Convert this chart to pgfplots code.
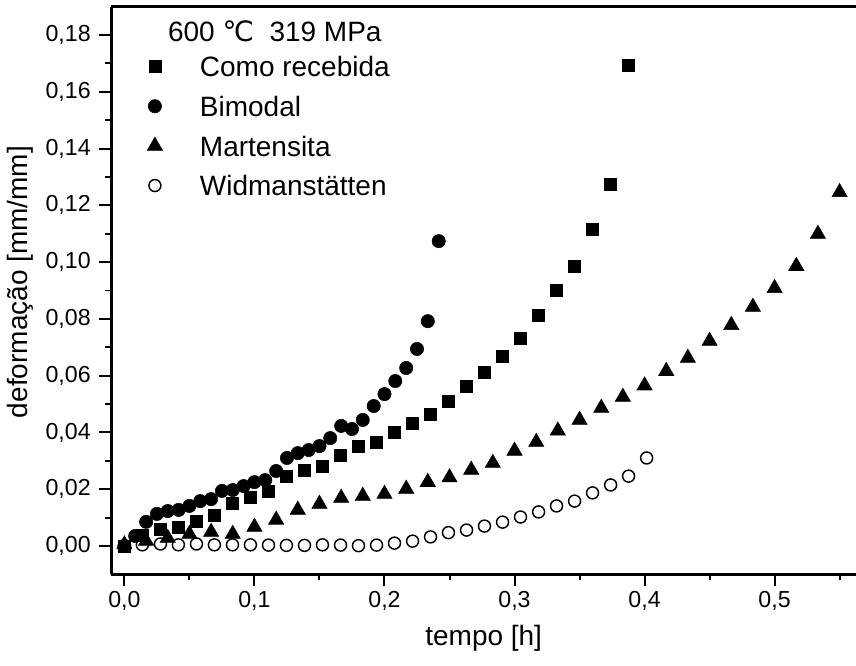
\documentclass[border=0pt]{standalone}
\usepackage{fontspec}
\setmainfont{Liberation Sans}
\newfontfamily\dejavu{DejaVu Sans}
\usepackage{pgfplots}
\usepackage{pgfplotstable}
\pgfplotsset{compat=1.18}
\usetikzlibrary{calc}

% tempo [h]  deformacao [mm/mm]
\pgfplotstableread{
t e
0      0
0.0138 0.0037
0.0277 0.0060
0.0415 0.0067
0.0554 0.0088
0.0692 0.0109
0.0831 0.0151
0.0969 0.0173
0.1108 0.0194
0.1246 0.0246
0.1385 0.0268
0.1523 0.0282
0.1662 0.0320
0.1800 0.0352
0.1939 0.0366
0.2077 0.0401
0.2216 0.0433
0.2354 0.0465
0.2492 0.0511
0.2631 0.0562
0.2769 0.0612
0.2908 0.0669
0.3046 0.0732
0.3185 0.0813
0.3323 0.0901
0.3462 0.0986
0.3600 0.1116
0.3739 0.1275
0.3877 0.1694
}\comorecebida

\pgfplotstableread{
t e
0      0
0.0083 0.0035
0.0167 0.0085
0.0250 0.0113
0.0333 0.0123
0.0417 0.0127
0.0500 0.0141
0.0583 0.0158
0.0667 0.0165
0.0750 0.0194
0.0833 0.0197
0.0917 0.0211
0.1000 0.0225
0.1083 0.0232
0.1167 0.0264
0.1250 0.0310
0.1333 0.0327
0.1417 0.0338
0.1500 0.0352
0.1583 0.0380
0.1667 0.0423
0.1750 0.0412
0.1833 0.0444
0.1917 0.0493
0.2000 0.0535
0.2083 0.0581
0.2167 0.0627
0.2250 0.0694
0.2333 0.0792
0.2417 0.1074
}\bimodal

\pgfplotstableread{
t e
0      0.0005
0.0167 0.0018
0.0333 0.0028
0.0500 0.0042
0.0667 0.0049
0.0833 0.0042
0.1000 0.0067
0.1167 0.0092
0.1333 0.0127
0.1500 0.0148
0.1667 0.0169
0.1833 0.0176
0.2000 0.0183
0.2167 0.0201
0.2333 0.0225
0.2500 0.0241
0.2667 0.0268
0.2833 0.0292
0.3000 0.0335
0.3167 0.0366
0.3333 0.0406
0.3500 0.0444
0.3667 0.0486
0.3833 0.0525
0.4000 0.0565
0.4167 0.0616
0.4333 0.0662
0.4500 0.0722
0.4667 0.0778
0.4833 0.0842
0.5000 0.0908
0.5167 0.0986
0.5333 0.1099
0.5500 0.1246
}\martensita

\pgfplotstableread{
t e
0      0
0.0138 0.0004
0.0277 0.0007
0.0415 0.0004
0.0554 0.0007
0.0692 0.0004
0.0831 0.0004
0.0969 0.0004
0.1108 0.0003
0.1246 0.0002
0.1385 0.0002
0.1523 0.0004
0.1662 0.0003
0.1800 0.0001
0.1939 0.0003
0.2077 0.0010
0.2216 0.0017
0.2354 0.0032
0.2492 0.0047
0.2631 0.0056
0.2769 0.0070
0.2908 0.0084
0.3046 0.0102
0.3185 0.0120
0.3323 0.0141
0.3462 0.0158
0.3600 0.0187
0.3739 0.0215
0.3877 0.0246
0.4016 0.0310
}\widmanstatten

\begin{document}
\begin{tikzpicture}
\begin{axis}[
    scale only axis,
    width=558.75pt, height=426pt,
    xmin=-0.01, xmax=0.5626,
    ymin=-0.01, ymax=0.19,
    axis x line=box, axis y line=left,
    axis line style={-, line width=2pt},
    xtick={0,0.1,0.2,0.3,0.4,0.5},
    minor xtick={0.05,0.15,0.25,0.35,0.45,0.55},
    ytick={0,0.02,0.04,0.06,0.08,0.10,0.12,0.14,0.16,0.18},
    minor ytick={0.01,0.03,0.05,0.07,0.09,0.11,0.13,0.15,0.17},
    xtick pos=bottom, ytick pos=left,
    tick align=outside,
    major tick length=9pt, minor tick length=4.5pt,
    every tick/.style={black, line width=1.5pt},
    scaled ticks=false,
    /pgf/number format/assume math mode=true,
    x tick label style={/pgf/number format/.cd, fixed, fixed zerofill, precision=1, use comma},
    y tick label style={xshift=-3pt, /pgf/number format/.cd, fixed, fixed zerofill, precision=2, use comma},
    tick label style={font=\fontsize{17.4}{20}\selectfont},
    label style={font=\fontsize{21}{25}\selectfont},
    xlabel={tempo [h]},
    ylabel={deformação [mm/mm]},
    xlabel style={at={(axis description cs:0.5,-0.112)}, anchor=center},
    ylabel style={at={(axis description cs:-0.1228,0.515)}, anchor=center},
    clip=false,
    legend cell align=left,
    legend image code/.code={
        \path[draw=none, fill=none] (-10pt,-5pt) rectangle (10pt,10pt);
        \draw[#1] plot coordinates {(0pt,2.5pt)};
    },
    legend style={at={(axis cs:0.0132,0.1724)}, anchor=north west,
        draw=none, fill=none, inner sep=0pt, outer sep=0pt,
        font=\fontsize{21}{25}\selectfont,
        row sep=10pt, column sep=23.8pt,
        nodes={inner sep=0pt, text height=15pt, text depth=4.5pt}},
]
\coordinate (bl) at (rel axis cs:0,0);
\coordinate (tr) at (rel axis cs:1,1);

\addplot[only marks, mark=square*, mark size=4.5pt, black] table[x=t, y=e] {\comorecebida};
\addlegendentry{Como recebida}
\addplot[only marks, mark=*, mark size=5pt, black] table[x=t, y=e] {\bimodal};
\addlegendentry{Bimodal}
\addplot[only marks, mark=triangle*, mark size=6.6pt, black] table[x=t, y=e] {\martensita};
\addlegendentry{Martensita}
\addplot[only marks, mark=o, mark size=4.5pt, black, mark options={line width=1.1pt}] table[x=t, y=e] {\widmanstatten};
\addlegendentry{Widmanstätten}

\node[anchor=west, inner sep=0pt, font=\fontsize{21}{25}\selectfont]
    at (axis cs:0.0334,0.1813) {600 {\dejavu ℃}\ \ 319 MPa};
\end{axis}
\pgfresetboundingbox
\path[use as bounding box] ($(bl)+(-83.6pt,-68.25pt)$) rectangle ($(tr)+(0pt,5pt)$);
\end{tikzpicture}
\end{document}
